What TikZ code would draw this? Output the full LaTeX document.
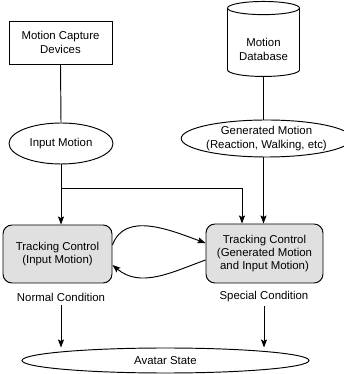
\documentclass[tikz,border=0pt]{standalone}
\usepackage{fontspec}
\setmainfont{Liberation Sans}
\usetikzlibrary{shapes.geometric,arrows.meta,calc}

\begin{document}
\begin{tikzpicture}[x=1pt,y=1pt,line width=0.95pt,
  font=\fontsize{11.4}{13.3}\selectfont,
  arr/.style={-{Stealth[length=8pt,width=6pt,inset=1.5pt]}},
  plainbox/.style={draw,rectangle,align=center,inner sep=0pt},
  ctrlbox/.style={draw,rectangle,rounded corners=9pt,fill=black!12,align=center,inner sep=0pt},
  oval/.style={draw,ellipse,align=center,inner sep=0pt}]
\useasboundingbox (0,0) rectangle (343,374);

% sources
\node[plainbox,minimum width=103pt,minimum height=43pt] (capture) at (60.5,331.5) {Motion Capture\\Devices};
% the cylinder keeps a phantom of its text so that its caps get their size
\node[draw,cylinder,shape border rotate=90,aspect=0.27,inner sep=0pt,align=center,
  minimum width=72pt,minimum height=75pt] (db) at (263.5,331.5) {\phantom{Motion}\\\phantom{Database}};
\node[align=center] (dbname) at ([yshift=-7pt]db.center) {Motion\\Database};

% motions
\node[oval,minimum width=104pt,minimum height=41pt] (inmotion) at (61,230.5) {Input Motion};
\node[oval,minimum width=113pt,minimum height=37pt] (genmotion) at (266.5,235.5) {Generated Motion\\(Reaction, Walking, etc)};

% controllers
\node[ctrlbox,minimum width=109pt,minimum height=58pt] (track1) at (57.5,120) {Tracking Control\\(Input Motion)};
\node[ctrlbox,minimum width=117pt,minimum height=59pt] (track2) at (264.5,120.5) {Tracking Control\\(Generated Motion\\and Input Motion)};

\node (normal) at (61,77) {Normal Condition};
\node (special) at (264,77) {Special Condition};

\node[oval,minimum width=287pt,minimum height=25pt] (avatar) at (165.5,13.5) {Avatar State};

\coordinate (split) at (61,186);

\draw (capture.south) -- (inmotion.north);
\draw (db.south) -- (db.south |- genmotion.north);

\draw[arr] (inmotion.south) -- (inmotion.south |- track1.north);
\draw[arr] (split) -| ([xshift=-22.5pt]track2.north);
\draw[arr] (db.south |- genmotion.south) -- (db.south |- track2.north);

% switching between the two controllers
\draw[arr] ([yshift=9pt]track1.east) to[out=70,in=160] ([yshift=10.5pt]track2.west);
\draw[arr] ([yshift=-6.5pt]track2.west) to[out=200,in=-40] ([yshift=-11pt]track1.east);

\draw[arr] (normal.south) -- (normal.south |- avatar.north);
\draw[arr] (special.south) -- (special.south |- avatar.north);
\end{tikzpicture}
\end{document}
